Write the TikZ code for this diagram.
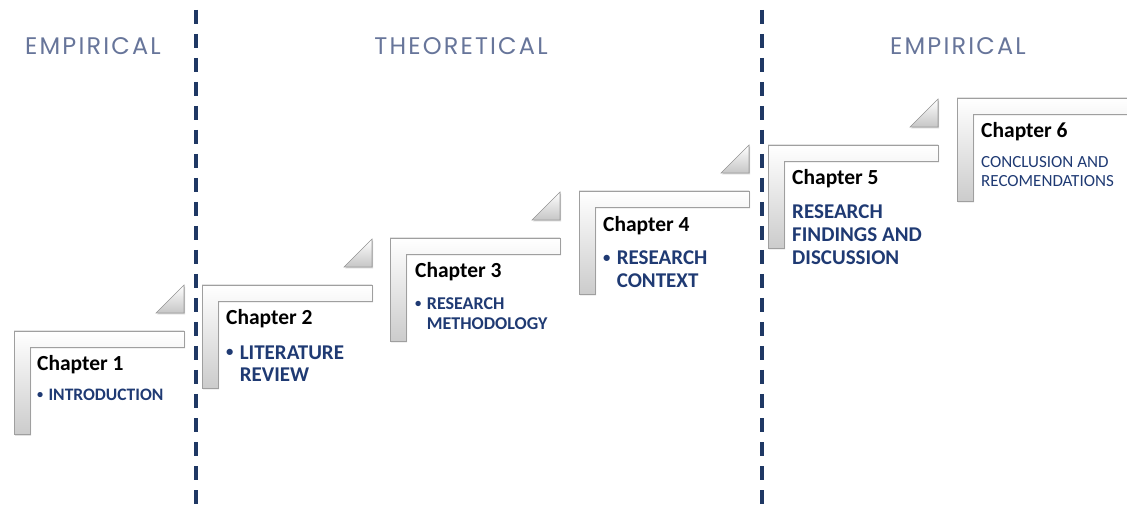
\documentclass[tikz,border=0pt]{standalone}
\usepackage{fontspec}
\setmainfont{Carlito}
\newfontfamily\phasefont[LetterSpace=9]{Poppins}
\usepackage{xcolor}
\usetikzlibrary{positioning, shadows}
\definecolor{navy}{HTML}{1F3A73}
\definecolor{divider}{HTML}{1F3864}
\definecolor{phasegray}{HTML}{67759A}
\tikzset{
x=1pt, y=-1pt,
divider line/.style={%
    divider, line width=3.3pt,
    dash pattern=on 14pt off 10pt
},
phase/.style={%
    anchor=base, inner sep=0pt, text=phasegray,
    font=\phasefont\fontsize{24}{28}\selectfont
},
stepshape/.style={%
    draw=gray!75, line width=0.6pt,
    top color=white, bottom color=gray!40,
    drop shadow={shadow xshift=1.2pt, shadow yshift=-1.5pt, opacity=0.35}
},
wedge/.style={%
    draw=gray!75, line width=0.6pt,
    top color=white, bottom color=gray!45,
    drop shadow={shadow xshift=1.2pt, shadow yshift=-1.5pt, opacity=0.35}
},
chapter/.style={%
    anchor=base west, inner sep=0pt, text=black,
    font=\bfseries\fontsize{21.5}{25}\selectfont
},
topic/.style n args={2}{%
    anchor=base west, inner sep=0pt, text=navy, align=left,
    font=\bfseries\fontsize{#1}{#2}\selectfont
},
}
\newcommand{\bul}{\raisebox{0.12em}{\scalebox{0.7}{\textbullet}}\hspace{0.3em}}
\newcommand{\nobul}{\phantom{\scalebox{0.7}{\textbullet}}\hspace{0.3em}}

\begin{document}
\begin{tikzpicture}
\useasboundingbox (0,0) rectangle (1127,510);

% phase dividers
\coordinate (d1top) at (196,10);
\coordinate (d1bot) at (196,510);
\coordinate (d2top) at (762,10);
\coordinate (d2bot) at (762,510);
\draw[divider line] (d1top) -- (d1bot);
\draw[divider line] (d2top) -- (d2bot);

% phase headings
\node[phase] (emp1) at (93,55) {EMPIRICAL};
\node[phase] (theo) at (461,55) {THEORETICAL};
\node[phase] (emp2) at (958,55) {EMPIRICAL};

% stair steps
\foreach \x/\y in {14/331, 202/285, 390/238, 579/191, 768/145, 957/98}{
  \filldraw[stepshape] (\x,\y) -- ++(170,0) -- ++(0,16) -- ++(-154,0)
      -- ++(0,87) -- ++(-16,0) -- cycle;
}
\foreach \x/\y in {14/331, 202/285, 390/238, 579/191, 768/145}{
  \filldraw[wedge] (\x+142,\y-18) -- ++(28,0) -- ++(0,-28) -- cycle;
}

% chapter labels (base of multi-line text = last line)
\node[chapter] (ch1) at (37,371) {Chapter 1};
\node[topic={17.5}{20}, below=30pt of ch1.base west, anchor=base west] (t1) {\bul INTRODUCTION};

\node[chapter] (ch2) at (226,325) {Chapter 2};
\node[topic={21}{23}, below=57pt of ch2.base west, anchor=base west] (t2) {\bul LITERATURE\\\nobul REVIEW};

\node[chapter] (ch3) at (415,278) {Chapter 3};
\node[topic={18}{20}, below=52pt of ch3.base west, anchor=base west] (t3) {\bul RESEARCH\\\nobul METHODOLOGY};

\node[chapter] (ch4) at (603,232) {Chapter 4};
\node[topic={21}{23}, below=56pt of ch4.base west, anchor=base west] (t4) {\bul RESEARCH\\\nobul CONTEXT};

\node[chapter] (ch5) at (792,185) {Chapter 5};
\node[topic={21}{23}, below=80pt of ch5.base west, anchor=base west] (t5) {RESEARCH\\FINDINGS AND\\DISCUSSION};

\node[chapter] (ch6) at (981,138) {Chapter 6};
\node[topic={17}{19}, below=49pt of ch6.base west, anchor=base west, font=\fontsize{17}{19}\selectfont] (t6) {CONCLUSION AND\\RECOMENDATIONS};

\end{tikzpicture}
\end{document}
